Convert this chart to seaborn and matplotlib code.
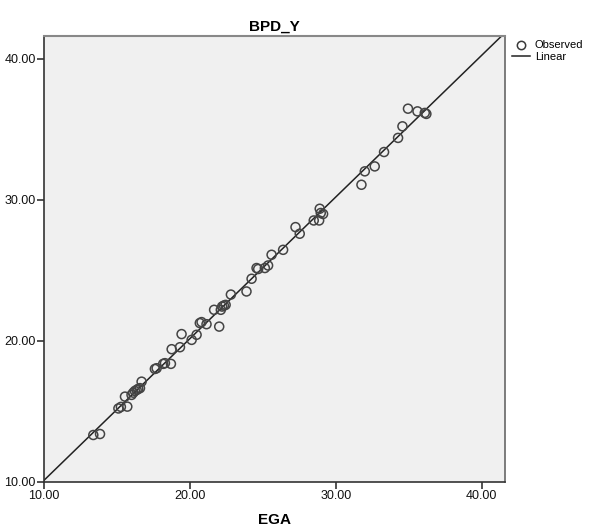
import numpy as np
import pandas as pd
import matplotlib
matplotlib.use("Agg")
import matplotlib.pyplot as plt
import seaborn as sns
from matplotlib.lines import Line2D
from matplotlib.ticker import FormatStrFormatter

ega = [13.38, 13.84, 15.10, 15.27, 15.71, 15.55, 16.00, 16.12, 16.23, 16.35,
       16.46, 16.58, 16.69, 17.60, 17.72, 18.17, 18.29, 18.70, 18.75, 19.32,
       19.43, 20.12, 20.46, 20.68, 20.80, 21.14, 22.01, 21.66, 22.12, 22.21,
       22.33, 22.45, 22.81, 23.88, 24.23, 24.57, 24.68, 25.14, 25.36, 25.60,
       26.39, 27.24, 27.53, 28.49, 28.90, 28.97, 28.86, 29.13, 31.76, 31.99,
       32.67, 33.31, 34.27, 34.57, 34.95, 35.60, 36.10, 36.21]
bpd_y = [13.33, 13.40, 15.21, 15.32, 15.34, 16.05, 16.17, 16.33, 16.45, 16.52,
         16.60, 16.65, 17.11, 18.01, 18.06, 18.37, 18.42, 18.37, 19.41, 19.55,
         20.48, 20.07, 20.43, 21.26, 21.33, 21.18, 21.01, 22.20, 22.20, 22.43,
         22.50, 22.55, 23.28, 23.50, 24.40, 25.16, 25.09, 25.16, 25.34, 26.10,
         26.45, 28.06, 27.59, 28.53, 29.36, 29.06, 28.53, 28.99, 31.06, 32.01,
         32.36, 33.38, 34.38, 35.20, 36.45, 36.26, 36.15, 36.08]
ticks = [10, 20, 30, 40]
title = "BPD_Y"
xlabel = "EGA"

df = pd.DataFrame({"EGA": ega, "BPD_Y": bpd_y})

plt.rcParams["font.family"] = ["Liberation Sans", "DejaVu Sans"]

fig = plt.figure(figsize=(5.95, 5.32), dpi=100)
ax = fig.add_axes([44/595, 50/532, 461/595, 446/532])
ax.set_facecolor("#F0F0F0")

lo, hi = 10, 41.6
slope, intercept = np.polyfit(df["EGA"], df["BPD_Y"], 1)
fit = pd.DataFrame({"x": [lo, hi]})
fit["y"] = intercept + slope * fit["x"]
sns.lineplot(data=fit, x="x", y="y", ax=ax, color="#222222", linewidth=1.1, zorder=2)

sns.scatterplot(data=df, x="EGA", y="BPD_Y", ax=ax, s=42, facecolor="none",
                edgecolor="#444444", linewidth=1.1, zorder=3)

ax.set_xlim(lo, hi)
ax.set_ylim(lo, hi)
ax.set_xticks(ticks)
ax.set_yticks(ticks)
ax.xaxis.set_major_formatter(FormatStrFormatter("%.2f"))
ax.yaxis.set_major_formatter(FormatStrFormatter("%.2f"))
ax.tick_params(direction="out", length=5, width=1.2, labelsize=9, color="#333333",
               labelcolor="#111111", pad=1)
for side in ["left", "bottom", "right"]:
    ax.spines[side].set_color("#333333")
    ax.spines[side].set_linewidth(1.2)
ax.spines["top"].set_color("#888888")
ax.spines["top"].set_linewidth(1.5)
ax.spines["right"].set_color("#666666")

ax.set_title(title, fontsize=11, fontweight="bold", pad=4)
ax.set_xlabel(xlabel, fontsize=11, fontweight="bold", labelpad=8)
ax.set_ylabel("")

handles = [Line2D([], [], marker="o", linestyle="none", markerfacecolor="none",
                  markeredgecolor="#3a3a3a", markersize=6, markeredgewidth=1.1),
           Line2D([], [], color="#222222", linewidth=1.1)]
fig.legend(handles, ["Observed", "Linear"], loc="upper left",
           bbox_to_anchor=(508/595, 1 - 36/532), frameon=False, fontsize=8,
           handlelength=1.6, handletextpad=0.4, labelspacing=0.1, borderaxespad=0)

fig.savefig("out.png", dpi=100)
